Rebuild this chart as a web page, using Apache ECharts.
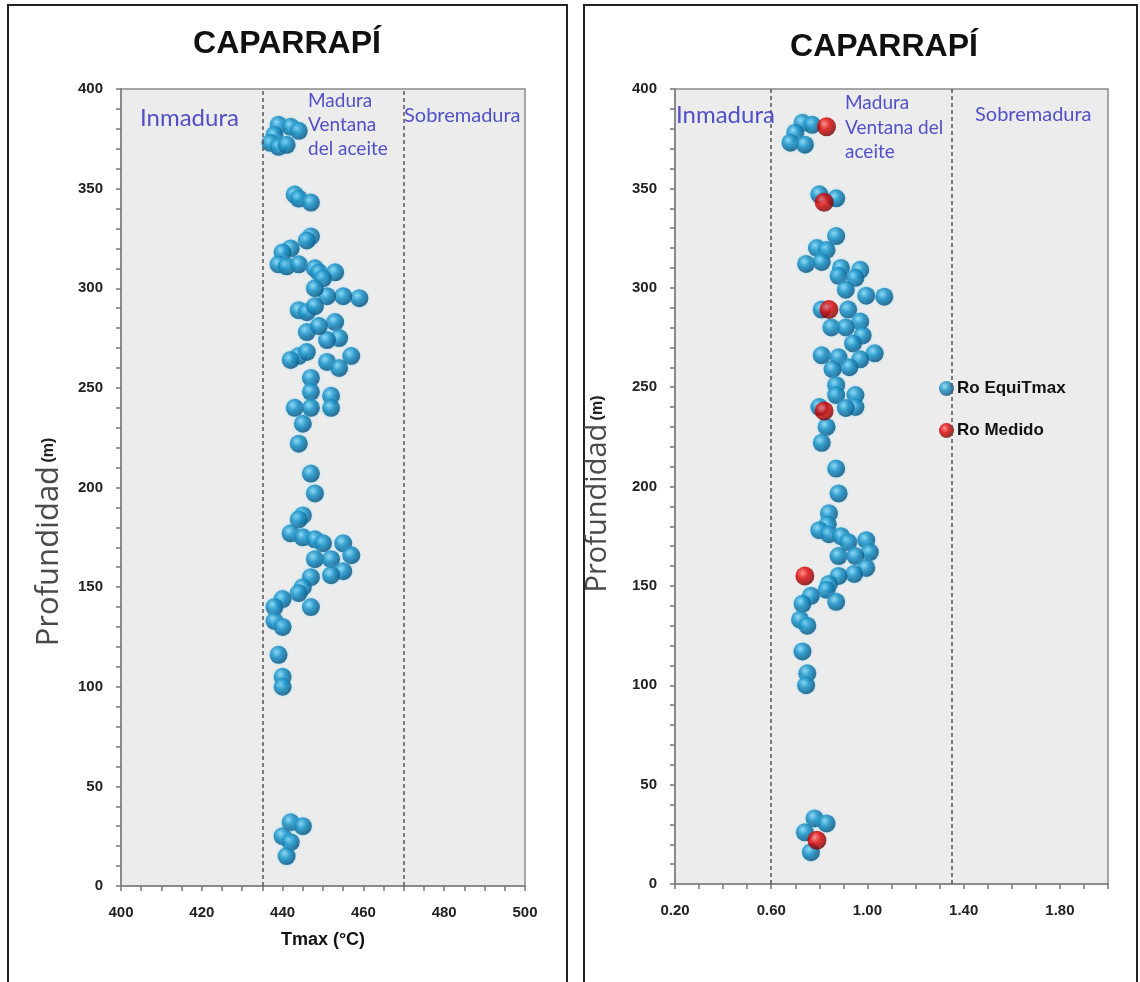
<!DOCTYPE html>
<html><head><meta charset="utf-8">
<script src="https://cdn.jsdelivr.net/npm/echarts@6/dist/echarts.min.js"></script>
<style>html,body{margin:0;padding:0;background:#fff}#c{width:1140px;height:982px}</style>
</head><body><div id="c"></div>
<script>
// ---- Data ----
const panelTitle = 'CAPARRAPÍ';
const tmaxTicks = [400, 420, 440, 460, 480, 500];
const roTicks = [0.2, 0.6, 1.0, 1.4, 1.8];
const depthTicks = [0, 50, 100, 150, 200, 250, 300, 350, 400];
const tmaxThresholds = [435, 470];
const roThresholds = [0.6, 1.35];

// Left panel: [Tmax (°C), depth (m)]
const tmaxData = [
  [439,382],[442,381],[444,379],[438,377],[437,373],[439,371],[441,372],
  [443,347],[444,345],[447,343],
  [447,326],[446,324],[442,320],[440,318],[439,312],[441,311],[444,312],[448,310],[449,308],[453,308],
  [450,305],[459,295],[455,296],[451,296],[448,300],[444,289],[446,288],[448,291],[453,283],[446,278],
  [454,275],[451,274],[449,281],[444,266],[457,266],[446,268],[442,264],[451,263],[454,260],[447,255],
  [447,248],[452,246],[443,240],[452,240],[447,240],[445,232],[444,222],
  [447,207],[448,197],[445,186],[444,184],[442,177],[445,175],[448,174],[450,172],[455,172],[457,166],
  [448,164],[452,164],[455,158],[452,156],[447,155],[445,150],[444,147],[447,140],[440,144],[438,140],
  [438,133],[440,130],[439,116],[440,105],[440,100],
  [442,32],[445,30],[440,25],[442,22],[441,15]
];

// Right panel: [Ro (%), depth (m)]
const roEquiData = [
  [0.73,383],[0.77,382],[0.70,378],[0.68,373],[0.74,372],
  [0.80,347],[0.87,345],
  [0.87,326],[0.79,320],[0.83,319],[0.745,312],[0.81,313],[0.89,310],[0.97,309],[0.88,306],[0.95,305],
  [0.995,296],[1.07,295.5],[0.91,299],[0.81,289],[0.92,289],[0.97,283],[0.85,280],[0.91,280],[0.98,276],
  [0.94,272],[0.81,266],[1.03,267],[0.88,265],[0.97,264],[0.925,260],[0.855,259],[0.87,251],[0.87,246],
  [0.95,246],[0.95,240],[0.80,240],[0.91,239.5],[0.83,230],[0.81,222],[0.87,209],
  [0.88,196.5],[0.84,186.5],[0.835,181],[0.80,178],[0.84,176],[0.89,175],[0.92,172],[0.995,173],[1.01,167],
  [0.88,165],[0.95,165],[0.995,159],[0.945,156],[0.88,155],[0.84,151],[0.83,148],[0.87,142],[0.765,145],
  [0.73,141],[0.72,133],[0.75,130],[0.73,117],[0.75,106],[0.745,100],
  [0.78,33],[0.83,30.5],[0.74,26],[0.765,16]
];
const roMedidoData = [[0.83,381],[0.82,343],[0.84,289],[0.82,238],[0.74,155],[0.79,22]];

// ---- Styles ----
const blueSphere = {type:'radial', x:0.38, y:0.35, r:0.65, colorStops:[
  {offset:0, color:'#86d8f5'},{offset:0.45, color:'#1a8fc4'},{offset:1, color:'#08507a'}]};
const redSphere = {type:'radial', x:0.38, y:0.35, r:0.65, colorStops:[
  {offset:0, color:'#ff7b7b'},{offset:0.45, color:'#e00000'},{offset:1, color:'#7a0000'}]};
const labelFont = {fontFamily:'Liberation Sans, Arial', fontWeight:'bold', fontSize:15, color:'#222'};
const axisLineStyle = {show:true, onZero:false, lineStyle:{color:'#8a8a8a', width:2}};
const tickStyle = {show:true, inside:false, length:5, lineStyle:{color:'#777', width:1.5}};
const minorStyle = {show:true, length:5, lineStyle:{color:'#777', width:1.5}};
const zoneColor = '#5050c8';

function yAxisFor(gridIndex){
  return {type:'value', gridIndex, min:depthTicks[0], max:depthTicks[depthTicks.length-1],
    interval:depthTicks[1]-depthTicks[0],
    axisLine:axisLineStyle, axisTick:tickStyle,
    minorTick:Object.assign({splitNumber:5}, minorStyle),
    splitLine:{show:false}, axisLabel:Object.assign({margin:18}, labelFont)};
}
function thresholdLines(vals){
  return {silent:true, symbol:'none', label:{show:false},
    lineStyle:{type:[4,3], color:'#555', width:1.5},
    data: vals.map(v => ({xAxis:v}))};
}
function yName(x, y, size){
  return {type:'text', x, y, rotation:Math.PI/2, style:{text:'{a|Profundidad} {b|(m)}', textAlign:'center', textVerticalAlign:'middle',
    rich:{a:{fontFamily:'Open Sans', fontSize:size, fill:'#4a4a4a', color:'#4a4a4a'},
          b:{fontFamily:'Liberation Sans', fontWeight:'bold', fontSize:16, fill:'#222', color:'#222'}}}};
}

const chart = echarts.init(document.getElementById('c'), null, {renderer:'canvas'});
chart.setOption({
  backgroundColor:'#ffffff',
  animation:false,
  grid:[
    {left:121, top:89, width:404, height:797, show:true, backgroundColor:'#ececec', borderColor:'#8a8a8a', borderWidth:1.5},
    {left:675, top:89, width:433, height:795, show:true, backgroundColor:'#ececec', borderColor:'#8a8a8a', borderWidth:1.5}
  ],
  xAxis:[
    {type:'value', gridIndex:0, min:tmaxTicks[0], max:tmaxTicks[tmaxTicks.length-1], interval:tmaxTicks[1]-tmaxTicks[0],
     axisLine:axisLineStyle, axisTick:tickStyle, minorTick:Object.assign({splitNumber:4}, minorStyle),
     splitLine:{show:false}, axisLabel:Object.assign({margin:19}, labelFont),
     name:'Tmax (°C)', nameLocation:'middle', nameGap:45,
     nameTextStyle:{fontFamily:'Liberation Sans, Arial', fontWeight:'bold', fontSize:18, color:'#111'}},
    {type:'value', gridIndex:1, min:roTicks[0], max:2.0, interval:roTicks[1]-roTicks[0],
     axisLine:axisLineStyle, axisTick:tickStyle, minorTick:Object.assign({splitNumber:4}, minorStyle),
     splitLine:{show:false},
     axisLabel:Object.assign({margin:19, formatter:v => (roTicks.some(t=>Math.abs(t-v)<1e-6) ? v.toFixed(2) : '')}, labelFont)}
  ],
  yAxis:[yAxisFor(0), yAxisFor(1)],
  legend:{
    orient:'vertical', left:934, top:375, itemGap:25, itemWidth:15, itemHeight:15, icon:'circle',
    data:['Ro EquiTmax','Ro Medido'],
    textStyle:{fontFamily:'Liberation Sans, Arial', fontWeight:'bold', fontSize:17, color:'#111', padding:[0,0,0,-2]}
  },
  series:[
    {name:'Tmax', type:'scatter', xAxisIndex:0, yAxisIndex:0, data:tmaxData, symbolSize:18,
     itemStyle:{color:blueSphere, shadowBlur:3, shadowColor:'rgba(110,215,255,0.7)'},
     markLine:thresholdLines(tmaxThresholds)},
    {name:'Ro EquiTmax', type:'scatter', xAxisIndex:1, yAxisIndex:1, data:roEquiData, symbolSize:18,
     itemStyle:{color:blueSphere, shadowBlur:3, shadowColor:'rgba(110,215,255,0.7)'},
     markLine:thresholdLines(roThresholds)},
    {name:'Ro Medido', type:'scatter', xAxisIndex:1, yAxisIndex:1, data:roMedidoData, symbolSize:19, z:5,
     itemStyle:{color:redSphere}}
  ],
  graphic:[
    {type:'rect', shape:{x:8, y:5, width:559, height:995}, style:{fill:'none', stroke:'#222', lineWidth:2}, silent:true},
    {type:'rect', shape:{x:584, y:5, width:553, height:995}, style:{fill:'none', stroke:'#222', lineWidth:2}, silent:true},
    {type:'text', x:287, y:44, style:{text:panelTitle, textAlign:'center', textVerticalAlign:'middle', font:'bold 32px "Liberation Sans", Arial', fill:'#111'}},
    {type:'text', x:884, y:47, style:{text:panelTitle, textAlign:'center', textVerticalAlign:'middle', font:'bold 32px "Liberation Sans", Arial', fill:'#111'}},
    // Left zone labels
    {type:'text', x:140, y:118, style:{text:'Inmadura', textVerticalAlign:'middle', font:'24px Lato', fill:zoneColor}, z:10},
    {type:'text', x:308, y:89, style:{text:'Madura\nVentana\ndel aceite', textVerticalAlign:'top', lineHeight:24, font:'19px Lato', fill:zoneColor}, z:10},
    {type:'text', x:404, y:116, style:{text:'Sobremadura', textVerticalAlign:'middle', font:'20px Lato', fill:zoneColor}, z:10},
    // Right zone labels
    {type:'text', x:676, y:115, style:{text:'Inmadura', textVerticalAlign:'middle', font:'24px Lato', fill:zoneColor}, z:10},
    {type:'text', x:845, y:91, style:{text:'Madura\nVentana del\naceite', textVerticalAlign:'top', lineHeight:24.5, font:'19px Lato', fill:zoneColor}, z:10},
    {type:'text', x:975, y:115, style:{text:'Sobremadura', textVerticalAlign:'middle', font:'20px Lato', fill:zoneColor}, z:10},
    // Y axis names
    yName(49, 542, 31),
    yName(598, 494, 29)
  ]
});
</script>
</body></html>
